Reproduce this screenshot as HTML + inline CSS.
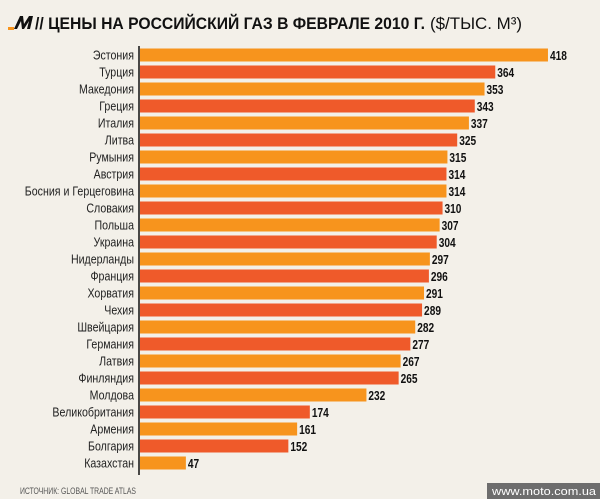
<!DOCTYPE html>
<html><head><meta charset="utf-8"><style>
html,body{margin:0;padding:0;background:#f3f0e9;}
svg{display:block;font-family:"Liberation Sans",sans-serif;}
</style></head><body>
<svg width="600" height="499" viewBox="0 0 600 499" xmlns="http://www.w3.org/2000/svg">
<rect width="600" height="499" fill="#f3f0e9"/>
<path d="M14 29 L20 16 L23 16 L24 24 L29 16 L33 16 L30 29 L27 29 L29 21 L24 29 L22 29 L21 21 L17 29 Z" fill="#111"/>
<rect x="8" y="27" width="6" height="3" fill="#f7941d"/>
<text x="35" y="29" font-size="17" font-weight="bold" fill="#111" textLength="390" lengthAdjust="spacingAndGlyphs">// ЦЕНЫ НА РОССИЙСКИЙ ГАЗ В ФЕВРАЛЕ 2010 Г.</text>
<text x="430" y="29" font-size="17" fill="#111" textLength="92" lengthAdjust="spacingAndGlyphs">($/ТЫС. М³)</text>
<g id="bars"></g>
<line x1="139" y1="46" x2="139" y2="475" stroke="#111" stroke-width="1.5"/>
<text x="20" y="494" font-size="9" fill="#555" textLength="116" lengthAdjust="spacingAndGlyphs">ИСТОЧНИК: GLOBAL TRADE ATLAS</text>
<rect x="487" y="483" width="113" height="16" fill="#6d6d6d"/>
<text x="492" y="495" font-size="11" fill="#fff" textLength="104" lengthAdjust="spacingAndGlyphs">www.moto.com.ua</text>
</svg>
<script>
var d=[["Эстония",418],["Турция",364],["Македония",353],["Греция",343],["Италия",337],["Литва",325],["Румыния",315],["Австрия",314],["Босния и Герцеговина",314],["Словакия",310],["Польша",307],["Украина",304],["Нидерланды",297],["Франция",296],["Хорватия",291],["Чехия",289],["Швейцария",282],["Германия",277],["Латвия",267],["Финляндия",265],["Молдова",232],["Великобритания",174],["Армения",161],["Болгария",152],["Казахстан",47]];
var g=document.getElementById("bars"),h="";
d.forEach(function(r,i){var c=55+17*i,w=r[1]*0.976,vx=142+w;
h+='<rect x="140" y="'+(c-6.5)+'" width="'+w+'" height="13" fill="'+(i%2?"#ef5a2a":"#f7941d")+'"/>';
h+='<text x="134" y="'+(c+4.5)+'" font-size="12.5" text-anchor="end" fill="#222" transform="translate(134 0) scale(0.85 1) translate(-134 0)">'+r[0]+'</text>';
h+='<text x="'+vx+'" y="'+(c+5)+'" font-size="13" font-weight="bold" fill="#111" transform="translate('+vx+' 0) scale(0.78 1) translate('+(-vx)+' 0)">'+r[1]+'</text>';});
g.innerHTML=h;
</script>
</body></html>
